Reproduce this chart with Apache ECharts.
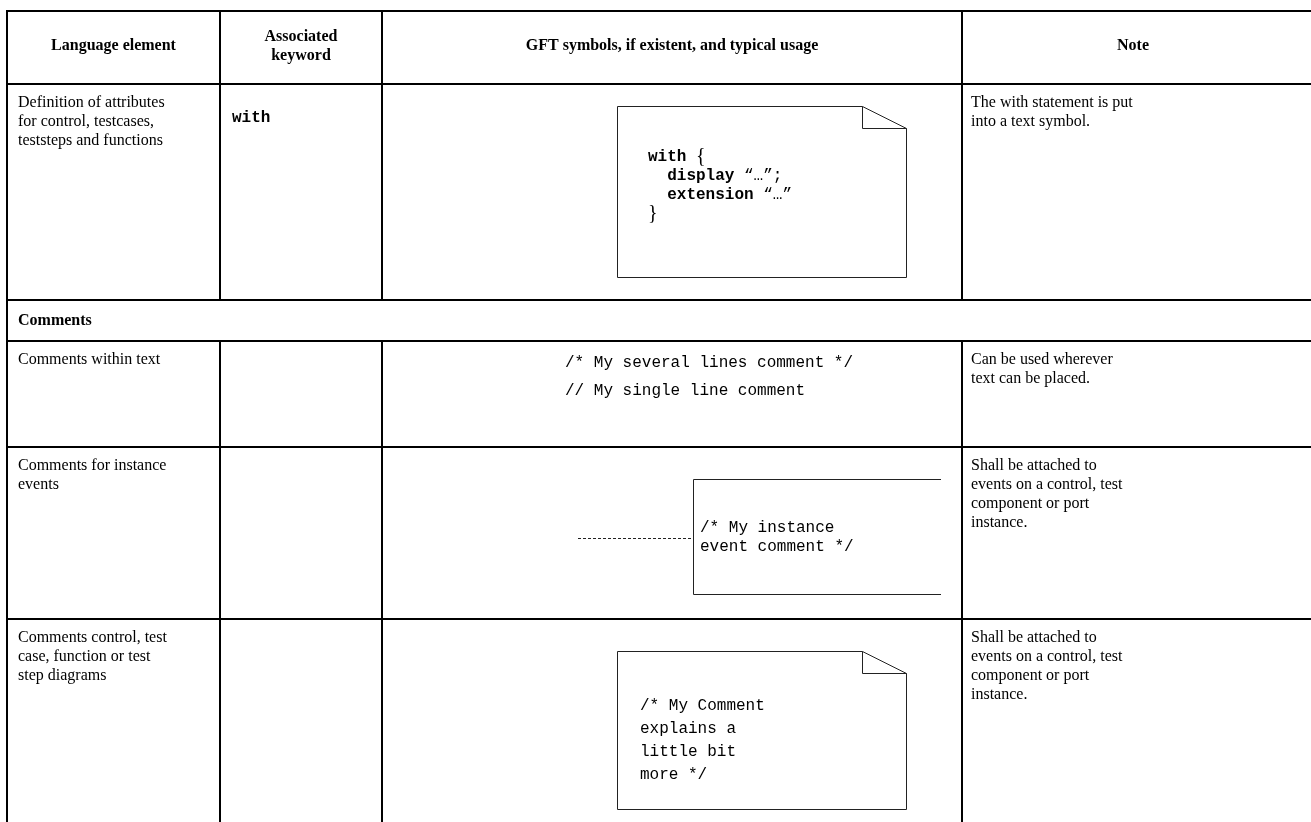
<!DOCTYPE html>
<html>
<head>
<meta charset="utf-8">
<script src="https://cdn.jsdelivr.net/npm/echarts@6/dist/echarts.min.js"></script>
<style>
html,body{margin:0;padding:0;background:#fff;}
#chart{width:1311px;height:822px;}
</style>
</head>
<body>
<div id="chart"></div>
<script>
// ---- data ----
const headers = ['Language element', 'Associated\nkeyword', 'GFT symbols, if existent, and typical usage', 'Note'];
const sectionTitle = 'Comments';
const elements = [
  'Definition of attributes\nfor control, testcases,\nteststeps and functions',
  'Comments within text',
  'Comments for instance\nevents',
  'Comments control, test\ncase, function or test\nstep diagrams'
];
const keywords = ['with', '', '', ''];
const notes = [
  'The with statement is put\ninto a text symbol.',
  'Can be used wherever\ntext can be placed.',
  'Shall be attached to\nevents on a control, test\ncomponent or port\ninstance.',
  'Shall be attached to\nevents on a control, test\ncomponent or port\ninstance.'
];
const withLines = [['with', '', '{'], ['  display', ' “…”;', ''], ['  extension', ' “…”', ''], ['', '', '}']];
const commentLines = ['/* My several lines comment */', '// My single line comment'];
const instanceLines = ['/* My instance', 'event comment */'];
const noteSymbolLines = ['/* My Comment', 'explains a', 'little bit', 'more */'];

// ---- layout ----
const W = 1311, H = 822;
const colX = [7, 220, 382, 962, W];
const rowY = [11, 84, 300, 341, 447, 619, H];
const bodyRows = [1, 3, 4, 5];
const SERIF = '"Liberation Serif", "Times New Roman", serif';
const MONO = '"Liberation Mono", "Courier New", monospace';
const FS = 16, LH = 19, MFS = 16;

const g = [];
const lineStyle = {stroke: '#000', lineWidth: 2};
function hline(y, x1, x2) { g.push({type: 'line', shape: {x1, y1: y, x2, y2: y}, style: lineStyle, silent: true}); }
function vline(x, y1, y2) { g.push({type: 'line', shape: {x1: x, y1, x2: x, y2}, style: lineStyle, silent: true}); }
function text(t, x, y, opt) {
  g.push({type: 'text', x, y, style: Object.assign({text: t, fill: '#000', font: FS + 'px ' + SERIF, lineHeight: LH, align: 'left', verticalAlign: 'top'}, opt || {}), silent: true});
}

rowY.slice(0, 6).forEach(y => hline(y, colX[0] - 1, W));
vline(colX[0], rowY[0] - 1, H);
[1, 2, 3].forEach(ci => {
  vline(colX[ci], rowY[0], rowY[2]);
  vline(colX[ci], rowY[3], H);
});

headers.forEach((h, i) => {
  const cx = i === 3 ? (colX[3] + 1304) / 2 : (colX[i] + colX[i + 1]) / 2;
  g.push({type: 'text', x: cx, y: 46, style: {text: h, fill: '#000', font: 'bold ' + FS + 'px ' + SERIF, lineHeight: LH, align: 'center', verticalAlign: 'middle'}, silent: true});
});
text(sectionTitle, colX[0] + 11, rowY[2] + 11, {font: 'bold ' + FS + 'px ' + SERIF});

bodyRows.forEach((ri, k) => {
  const top = rowY[ri];
  text(elements[k], colX[0] + 11, top + 9);
  if (keywords[k]) text(keywords[k], colX[1] + 12, top + 24, {font: 'bold ' + MFS + 'px ' + MONO});
  text(notes[k], colX[3] + 9, top + 9);
});

function noteBox(x1, y1, x2, y2, fw, fh) {
  g.push({type: 'polyline', shape: {points: [[x2 - fw, y1], [x1, y1], [x1, y2], [x2, y2], [x2, y1 + fh], [x2 - fw, y1]]}, style: {stroke: '#222', lineWidth: 1, fill: null}, silent: true});
  g.push({type: 'polyline', shape: {points: [[x2 - fw, y1], [x2 - fw, y1 + fh], [x2, y1 + fh]]}, style: {stroke: '#222', lineWidth: 1, fill: null}, silent: true});
}
noteBox(617.5, 106.5, 906.5, 277.5, 44, 22);
withLines.forEach((ln, i) => {
  const y = 157 + i * 19;
  if (!ln[0] && !ln[1]) {
    text(ln[2], 648, y, {font: '20px ' + SERIF, verticalAlign: 'middle'});
    return;
  }
  let s = '';
  if (ln[0]) s += '{k|' + ln[0] + '}';
  if (ln[1]) s += '{q|' + ln[1] + '}';
  if (ln[2]) s += '{q| }{b|' + ln[2] + '}';
  g.push({type: 'text', x: 648, y, style: {
    text: s, verticalAlign: 'middle', align: 'left',
    rich: {
      k: {font: 'bold ' + MFS + 'px ' + MONO, fill: '#000'},
      q: {font: MFS + 'px ' + MONO, fill: '#000'},
      b: {font: '20px ' + SERIF, fill: '#000'}
    }
  }, silent: true});
});

commentLines.forEach((t, i) => text(t, 565, 363 + i * 28, {font: MFS + 'px ' + MONO, verticalAlign: 'middle'}));

g.push({type: 'line', shape: {x1: 578, y1: 538.5, x2: 693, y2: 538.5}, style: {stroke: '#222', lineWidth: 1, lineDash: [3, 2]}, silent: true});
g.push({type: 'polyline', shape: {points: [[941, 479.5], [693.5, 479.5], [693.5, 594.5], [941, 594.5]]}, style: {stroke: '#222', lineWidth: 1, fill: null}, silent: true});
instanceLines.forEach((t, i) => text(t, 700, 528 + i * 19, {font: MFS + 'px ' + MONO, verticalAlign: 'middle'}));

noteBox(617.5, 651.5, 906.5, 809.5, 44, 22);
noteSymbolLines.forEach((t, i) => text(t, 640, 706 + i * 23, {font: MFS + 'px ' + MONO, verticalAlign: 'middle'}));

const chart = echarts.init(document.getElementById('chart'), null, {renderer: 'canvas'});
chart.setOption({backgroundColor: '#fff', animation: false, graphic: {elements: g}});
</script>
</body>
</html>
